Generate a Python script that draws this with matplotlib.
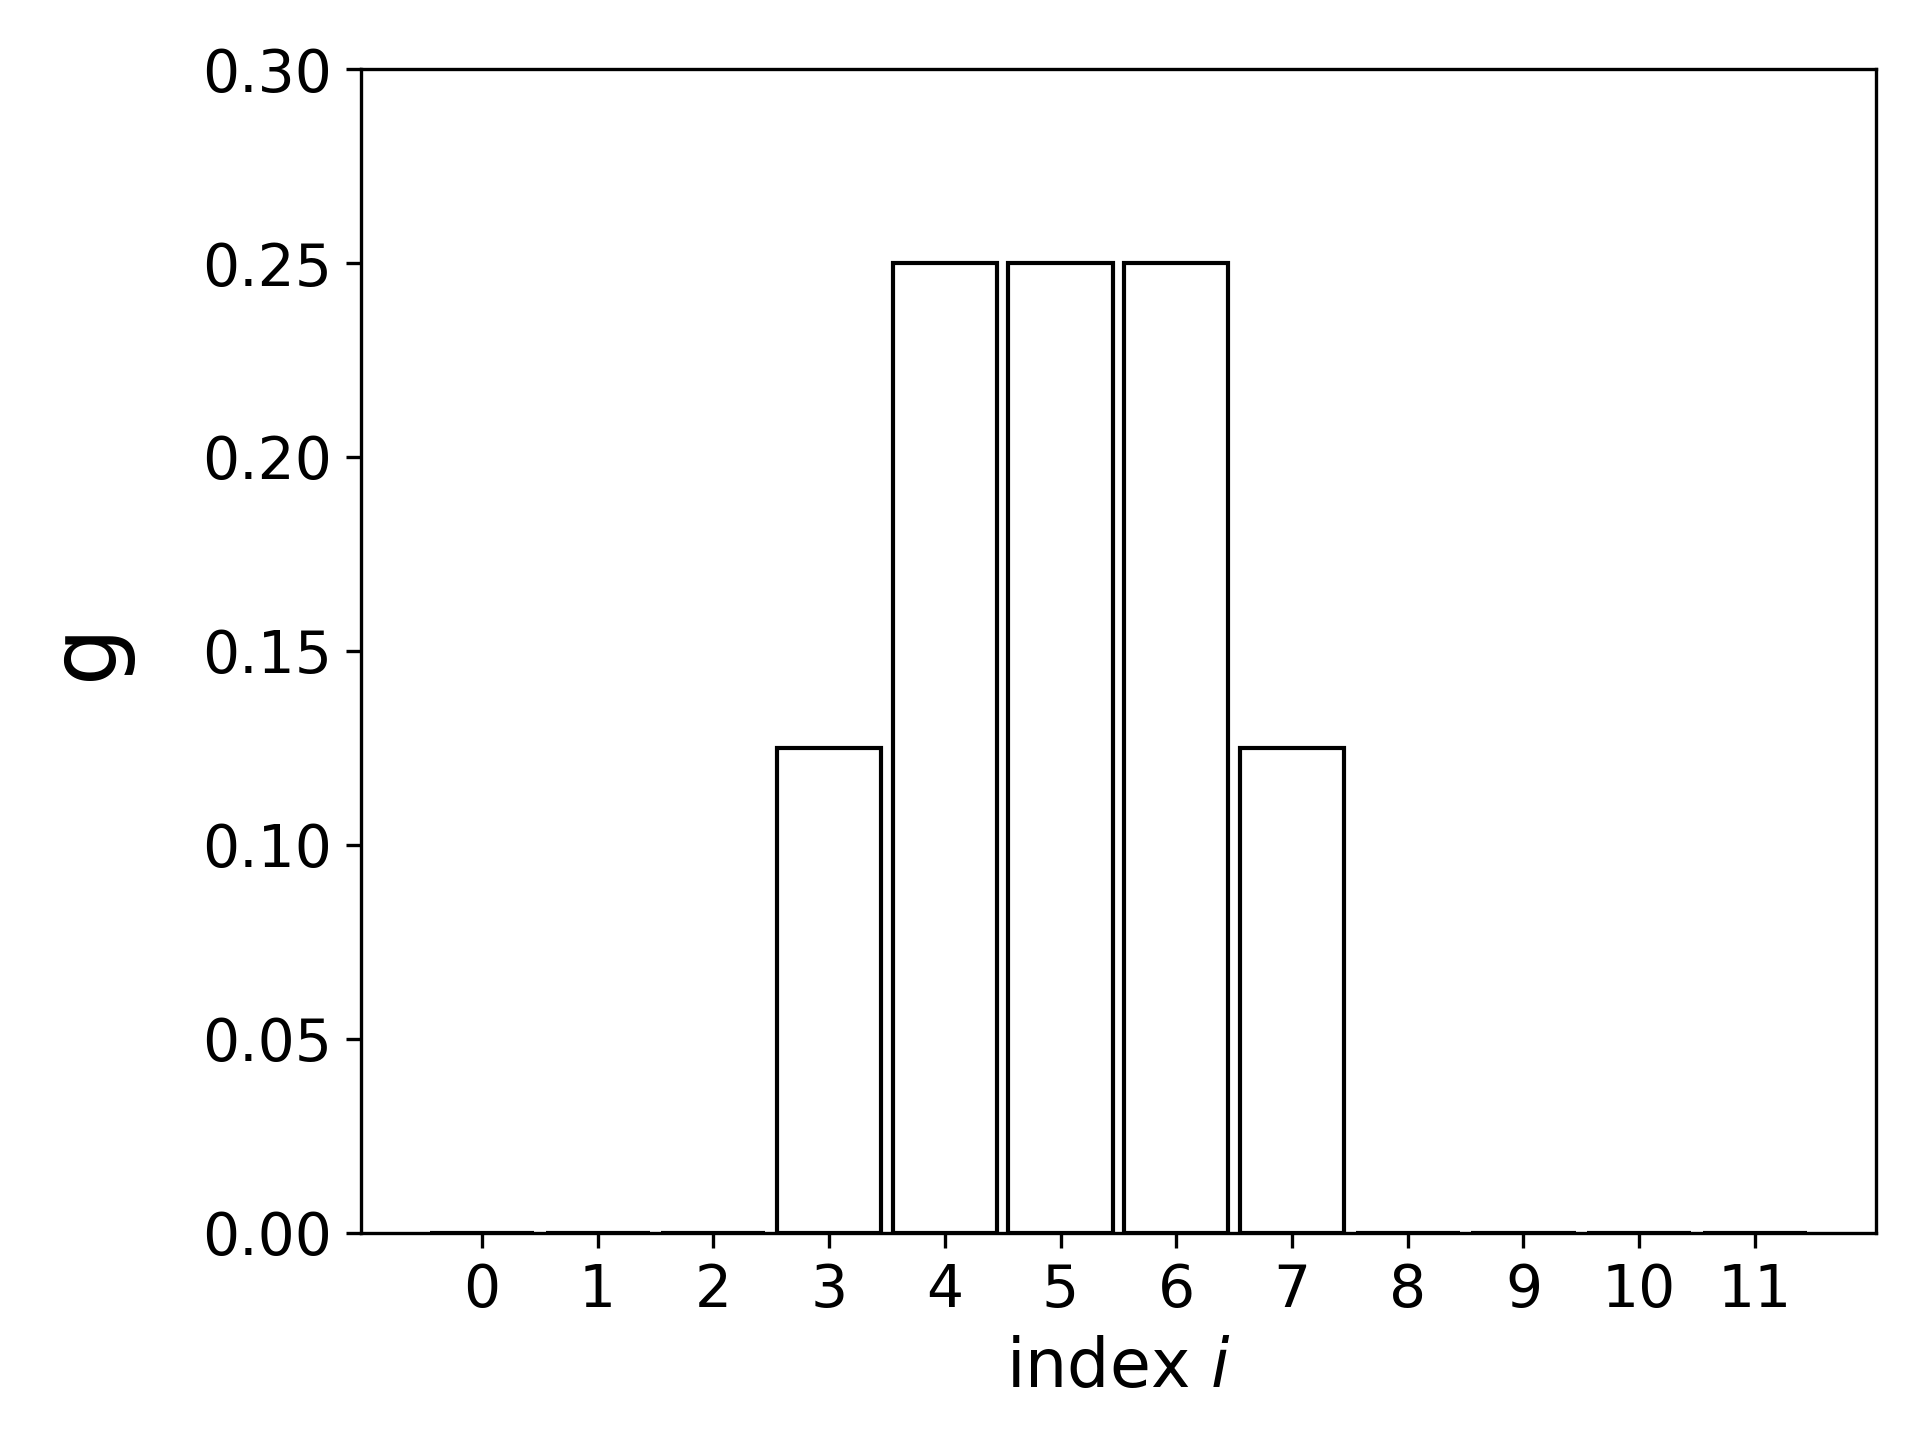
import numpy as np
import matplotlib.pyplot as plt

# values of g at each index
index = np.arange(12)
g = [0, 0, 0, 0.125, 0.25, 0.25, 0.25, 0.125, 0, 0, 0, 0]

fig, ax = plt.subplots(figsize=(6.4, 4.8), dpi=300)
ax.bar(index, g, width=0.9, color='white', edgecolor='black', linewidth=1.0)

ax.set_ylim(0, 0.30)
ax.set_xticks(index)
ax.tick_params(labelsize=14)
ax.set_xlabel('index $i$', fontsize=16)
ax.set_ylabel('g', fontsize=22, labelpad=17)

fig.subplots_adjust(left=0.188, right=0.977, bottom=0.144, top=0.952)
fig.savefig('out.png')
